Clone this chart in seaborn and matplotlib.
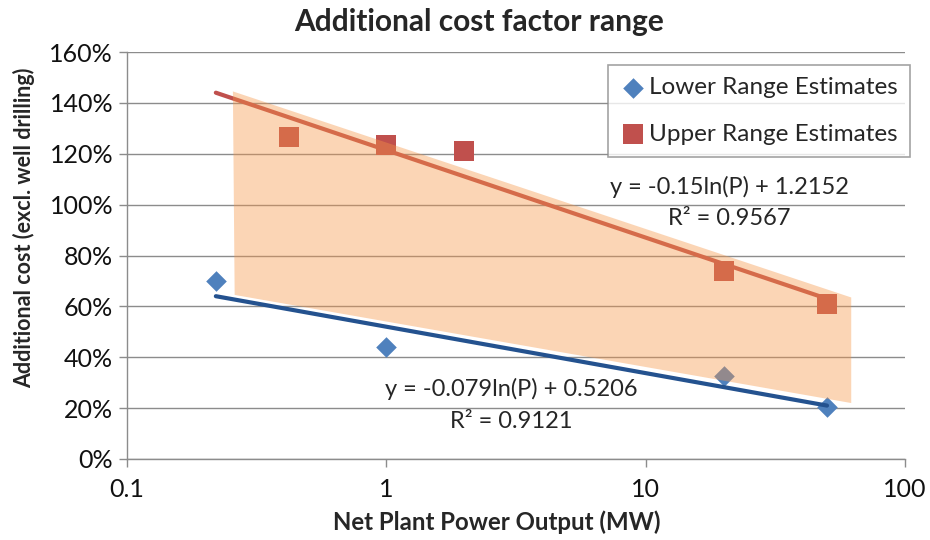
import numpy as np
import pandas as pd
import matplotlib
matplotlib.use("Agg")
import matplotlib.pyplot as plt
import seaborn as sns
from matplotlib.ticker import FixedLocator, FuncFormatter, NullLocator

# Data
lower_x = [0.22, 1, 20, 50]
lower_y = [0.70, 0.44, 0.325, 0.205]
upper_x = [0.42, 1, 2, 20, 50]
upper_y = [1.265, 1.235, 1.21, 0.74, 0.61]

# Excel log trendline endpoints
trend_x = [0.22, 50]
lower_trend_y = [0.64, 0.21]
upper_trend_y = [1.44, 0.63]

# shaded range band (polygon corners)
band_x = [0.256, 62, 62, 0.26]
band_y = [1.445, 0.635, 0.22, 0.645]

x_ticks = [0.1, 1, 10, 100]
x_tick_labels = ["0.1", "1", "10", "100"]
y_ticks = [0, 0.2, 0.4, 0.6, 0.8, 1.0, 1.2, 1.4, 1.6]

sns.set_theme(style="white")
plt.rcParams['font.family'] = ['Lato', 'DejaVu Sans']

blue = "#4F81BD"
red = "#C0504D"
grid = "#8C8C8C"

fig = plt.figure(figsize=(9.3, 5.4), dpi=100)
ax = fig.add_axes([0.1366, 0.15, 0.8366, 0.7537])

lower = pd.DataFrame({"P": lower_x, "cost": lower_y})
upper = pd.DataFrame({"P": upper_x, "cost": upper_y})

sns.scatterplot(data=lower, x="P", y="cost", marker="D", s=110, color=blue,
                edgecolor=blue, linewidth=0, ax=ax, zorder=3,
                label="Lower Range Estimates")
sns.scatterplot(data=upper, x="P", y="cost", marker="s", s=200, color=red,
                edgecolor=red, linewidth=0, ax=ax, zorder=3,
                label="Upper Range Estimates")

ax.plot(trend_x, lower_trend_y, color="#24528F", lw=3, solid_capstyle="round", zorder=4)
ax.plot(trend_x, upper_trend_y, color=red, lw=3, solid_capstyle="round", zorder=4)

ax.fill(band_x, band_y, color="#F79646", alpha=0.4, lw=0, zorder=5)

ax.set_xscale("log")
ax.set_xlim(0.1, 100)
ax.set_ylim(0, 1.6)
ax.xaxis.set_major_locator(FixedLocator(x_ticks))
ax.xaxis.set_minor_locator(NullLocator())
ax.set_xticklabels(x_tick_labels)
ax.set_yticks(y_ticks)
ax.yaxis.set_major_formatter(FuncFormatter(lambda v, p: f"{v*100:.0f}%"))

ax.yaxis.grid(True, color=grid, lw=1)
ax.set_axisbelow(True)
for s in ["top", "right"]:
    ax.spines[s].set_visible(False)
for s in ["left", "bottom"]:
    ax.spines[s].set_color(grid)
    ax.spines[s].set_linewidth(1)
ax.tick_params(axis="both", which="major", direction="out", length=6, width=1,
               color=grid, labelsize=18, labelcolor="#111111", bottom=True, left=True)
ax.tick_params(axis="x", pad=8)
ax.tick_params(axis="y", pad=4)

ax.set_title("Additional cost factor range", fontsize=21.5, fontweight="bold",
             pad=15, x=0.453)
ax.set_xlabel("Net Plant Power Output (MW)", fontsize=17.3, fontweight="bold")
ax.xaxis.set_label_coords(0.475, -0.126)
ax.set_ylabel("Additional cost (excl. well drilling)", fontsize=15.5, fontweight="bold")
ax.yaxis.set_label_coords(-0.118, 0.5676)

ax.text(21, 1.07, "y = -0.15ln(P) + 1.2152", ha="center", va="center", fontsize=17, zorder=6)
ax.text(21, 0.947, "R² = 0.9567", ha="center", va="center", fontsize=17, zorder=6)
ax.text(3.04, 0.275, "y = -0.079ln(P) + 0.5206", ha="center", va="center", fontsize=17, zorder=6)
ax.text(3.04, 0.149, "R² = 0.9121", ha="center", va="center", fontsize=17, zorder=6)

leg = ax.legend(loc="upper right", bbox_to_anchor=(910 / 930, 1 - 65 / 540),
                bbox_transform=fig.transFigure, borderaxespad=0, fontsize=17.5,
                frameon=True, fancybox=False, edgecolor="#8C8C8C",
                handletextpad=0.1, labelspacing=1.05, borderpad=0.5, handlelength=1.1)
leg.get_frame().set_linewidth(1.2)
leg.set_zorder(10)

fig.savefig("out.png", dpi=100)
